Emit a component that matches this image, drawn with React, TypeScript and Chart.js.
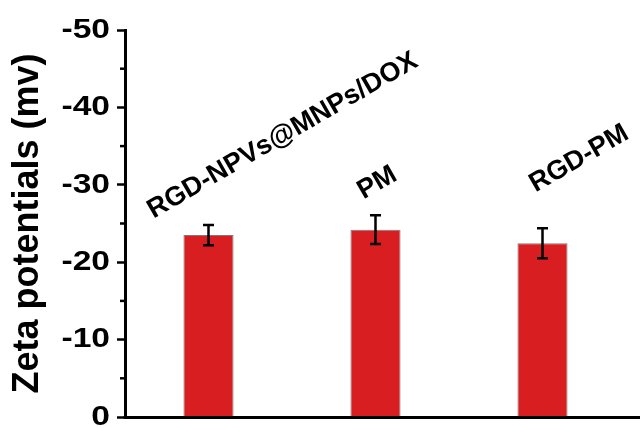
import React, { useEffect, useRef } from "react";
import { Chart, registerables } from "chart.js";

Chart.register(...registerables);

const CATEGORIES = ["RGD-NPVs@MNPs/DOX", "PM", "RGD-PM"];
const VALUES = [-23.5, -24.2, -22.45];
const ERRORS = [1.3, 1.85, 1.95];
const Y_TICKS = [0, -10, -20, -30, -40, -50];
const Y_TITLE = "Zeta potentials (mv)";

const FONT = "'Liberation Sans', Arial, sans-serif";
// label placement: [x offset from category centre (px), baseline y in data units]
const LABEL_PLACE: [number, number][] = [
  [-55, -25.6],
  [-12, -28.1],
  [-7, -29.0],
];

const overlay = {
  id: "overlay",
  afterDatasetsDraw(chart: any) {
    const { ctx, chartArea, scales } = chart;
    const x = scales.x;
    const y = scales.y;
    const meta = chart.getDatasetMeta(0);
    ctx.save();
    // error bars
    ctx.strokeStyle = "#000";
    ctx.lineWidth = 2.5;
    meta.data.forEach((bar: any, i: number) => {
      const cx = bar.x;
      const yTop = y.getPixelForValue(VALUES[i] - ERRORS[i]);
      const yBot = y.getPixelForValue(VALUES[i] + ERRORS[i]);
      ctx.beginPath();
      ctx.moveTo(cx, yTop);
      ctx.lineTo(cx, yBot);
      ctx.moveTo(cx - 5.5, yTop);
      ctx.lineTo(cx + 5.5, yTop);
      ctx.moveTo(cx - 5.5, yBot);
      ctx.lineTo(cx + 5.5, yBot);
      ctx.stroke();
    });
    // minor ticks
    ctx.lineWidth = 2.5;
    for (let v = -5; v >= -45; v -= 10) {
      const py = y.getPixelForValue(v);
      ctx.beginPath();
      ctx.moveTo(chartArea.left - 5, py);
      ctx.lineTo(chartArea.left, py);
      ctx.stroke();
    }
    // x axis line extending to the right edge
    ctx.lineWidth = 3;
    ctx.beginPath();
    ctx.moveTo(chartArea.left - 1.5, chartArea.bottom + 0.5);
    ctx.lineTo(chart.width, chartArea.bottom + 0.5);
    ctx.stroke();
    // y tick labels (wide bold)
    ctx.fillStyle = "#000";
    ctx.font = `bold 28px ${FONT}`;
    ctx.textAlign = "right";
    ctx.textBaseline = "middle";
    Y_TICKS.forEach((v) => {
      const py = y.getPixelForValue(v);
      ctx.save();
      ctx.translate(chartArea.left - 15, py);
      ctx.scale(1.2, 1);
      ctx.fillText(String(v), 0, 0);
      ctx.restore();
    });
    // category labels
    ctx.font = `bold 27px ${FONT}`;
    ctx.textAlign = "left";
    ctx.textBaseline = "alphabetic";
    CATEGORIES.forEach((label, i) => {
      const [dx, v] = LABEL_PLACE[i];
      const px = x.getPixelForValue(i) + dx;
      const py = y.getPixelForValue(v);
      ctx.save();
      ctx.translate(px, py);
      ctx.rotate((-30 * Math.PI) / 180);
      ctx.fillText(label, 0, 0);
      ctx.restore();
    });
    ctx.restore();
  },
};

export default function App() {
  const ref = useRef<HTMLCanvasElement>(null);
  useEffect(() => {
    document.body.style.margin = "0";
    const canvas = ref.current!;
    const chart = new Chart(canvas, {
      type: "bar",
      data: {
        labels: CATEGORIES,
        datasets: [
          {
            data: VALUES,
            backgroundColor: "#d81e20",
            borderColor: "#7a7a7a",
            borderWidth: 1,
            categoryPercentage: 1,
            barPercentage: 0.3,
          },
        ],
      },
      options: {
        responsive: false,
        animation: false,
        devicePixelRatio: 1,
        layout: { padding: { top: 30, right: 14, bottom: 11, left: 0 } },
        plugins: {
          legend: { display: false },
          tooltip: { enabled: false },
        },
        scales: {
          x: {
            display: false,
            offset: true,
          },
          y: {
            reverse: true,
            min: -50,
            max: 0,
            afterFit(scale: any) {
              scale.width = 125;
              scale.paddingTop = 0;
              scale.paddingBottom = 0;
            },
            afterBuildTicks(scale: any) {
              scale.ticks = Y_TICKS.map((v) => ({ value: v }));
            },
            border: { display: true, color: "#000", width: 3 },
            grid: {
              display: true,
              drawOnChartArea: false,
              drawTicks: true,
              tickLength: 8,
              tickWidth: 2.5,
              tickColor: "#000",
            },
            ticks: {
              display: false,
            },
            title: {
              display: true,
              text: Y_TITLE,
              color: "#000",
              padding: { top: 6, bottom: 0 },
              font: { family: FONT, size: 36, weight: "bold" },
            },
          },
        },
      },
      plugins: [overlay],
    });
    return () => chart.destroy();
  }, []);
  return (
    <div style={{ position: "absolute", left: 0, top: 0 }}>
      <canvas ref={ref} width={640} height={428} style={{ display: "block" }} />
    </div>
  );
}
